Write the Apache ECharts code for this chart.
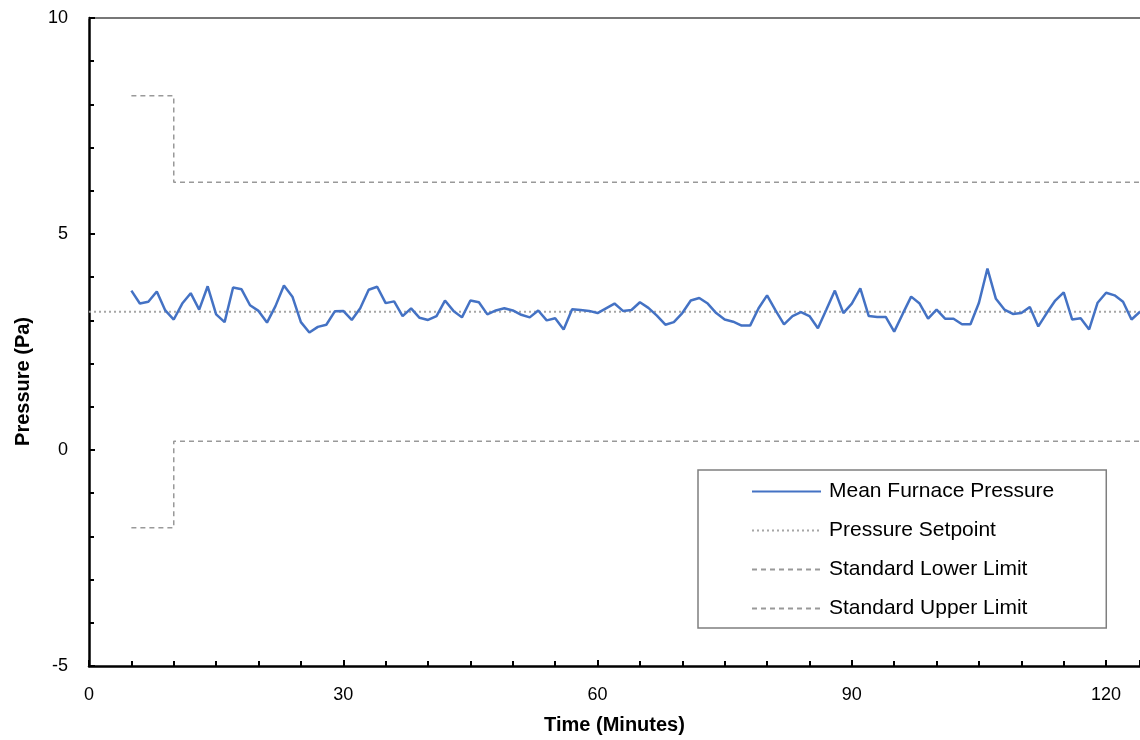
<!DOCTYPE html>
<html>
<head>
<meta charset="utf-8">
<title>Mean Furnace Pressure</title>
<script src="https://cdn.jsdelivr.net/npm/echarts@6/dist/echarts.min.js"></script>
<style>
  html, body { margin: 0; padding: 0; background: #fff; }
  #main { width: 1140px; height: 740px; }
</style>
</head>
<body>
<div id="main"></div>
<script>
// readings start at minute 5, one per minute
var startMinute = 5;
var pressure = [
  3.69, 3.39, 3.43, 3.67, 3.23, 3.02, 3.39, 3.63, 3.25, 3.79,
  3.14, 2.96, 3.76, 3.72, 3.35, 3.22, 2.95, 3.33, 3.81, 3.55,
  2.96, 2.72, 2.85, 2.90, 3.21, 3.22, 3.01, 3.28, 3.71, 3.78,
  3.40, 3.44, 3.10, 3.28, 3.06, 3.01, 3.10, 3.46, 3.22, 3.07,
  3.46, 3.42, 3.14, 3.23, 3.28, 3.23, 3.13, 3.07, 3.23, 3.00,
  3.05, 2.79, 3.26, 3.24, 3.22, 3.17, 3.28, 3.39, 3.22, 3.24,
  3.42, 3.29, 3.11, 2.90, 2.96, 3.17, 3.46, 3.52, 3.39, 3.17,
  3.02, 2.97, 2.88, 2.88, 3.28, 3.58, 3.23, 2.91, 3.10, 3.19,
  3.10, 2.82, 3.25, 3.69, 3.17, 3.39, 3.74, 3.10, 3.08, 3.08,
  2.74, 3.15, 3.55, 3.39, 3.04, 3.25, 3.04, 3.04, 2.91, 2.91,
  3.41, 4.20, 3.50, 3.25, 3.15, 3.17, 3.31, 2.86, 3.17, 3.46,
  3.65, 3.02, 3.05, 2.79, 3.41, 3.64, 3.58, 3.43, 3.02, 3.20
];
var setpoint = [[0, 3.2], [124, 3.2]];
var lowerLimit = [[5, -1.8], [10, -1.8], [10, 0.2], [124, 0.2]];
var upperLimit = [[5, 8.2], [10, 8.2], [10, 6.2], [124, 6.2]];

var seriesNames = ['Mean Furnace Pressure', 'Pressure Setpoint', 'Standard Lower Limit', 'Standard Upper Limit'];

var meanData = pressure.map(function (v, i) { return [startMinute + i, v]; });

var font = 'Liberation Sans, Arial, sans-serif';
var myChart = echarts.init(document.getElementById('main'));

myChart.setOption({
  animation: false,
  backgroundColor: '#fff',
  grid: { left: 89, top: 18, right: 0, bottom: 72, containLabel: false },
  legend: {
    data: seriesNames,
    orient: 'vertical',
    left: 698,
    top: 470,
    padding: [11, 52, 9, 53],
    itemWidth: 69,
    itemHeight: 18,
    itemGap: 18,
    borderColor: '#7f7f7f',
    borderWidth: 1.5,
    backgroundColor: '#fff',
    itemStyle: { opacity: 0 },
    textStyle: { fontFamily: font, fontSize: 21, color: '#000', padding: [0, 0, 0, 3] }
  },
  xAxis: [{
    type: 'value',
    min: 0,
    max: 124,
    interval: 30,
    name: 'Time (Minutes)',
    nameLocation: 'middle',
    nameGap: 49,
    nameTextStyle: { fontFamily: font, fontSize: 20, fontWeight: 'bold', color: '#000' },
    axisLine: { onZero: false, lineStyle: { color: '#000', width: 2.5 } },
    axisTick: { inside: true, length: 6, lineStyle: { color: '#000', width: 2 } },
    minorTick: { show: true, splitNumber: 6, length: 5, lineStyle: { color: '#000', width: 2 } },
    axisLabel: { fontFamily: font, fontSize: 18, color: '#000', margin: 20, showMaxLabel: false },
    splitLine: { show: false }
  }, {
    type: 'value',
    position: 'top',
    min: 0,
    max: 124,
    axisLine: { show: true, onZero: false, lineStyle: { color: '#777', width: 2 } },
    axisTick: { show: false },
    axisLabel: { show: false },
    splitLine: { show: false }
  }],
  yAxis: {
    type: 'value',
    min: -5,
    max: 10,
    interval: 5,
    axisLine: { show: true, onZero: false, lineStyle: { color: '#000', width: 2.5 } },
    axisTick: { inside: true, length: 6, lineStyle: { color: '#000', width: 2 } },
    minorTick: { show: true, splitNumber: 5, length: 5, lineStyle: { color: '#000', width: 2 } },
    axisLabel: { fontFamily: font, fontSize: 18, color: '#000', margin: 21 },
    splitLine: { show: false }
  },
  graphic: [{
    type: 'text',
    left: 13,
    top: 317,
    rotation: Math.PI / 2,
    style: {
      text: 'Pressure (Pa)',
      font: 'bold 20px Liberation Sans, Arial, sans-serif',
      fill: '#000'
    }
  }],
  series: [{
    name: seriesNames[0],
    type: 'line',
    data: meanData,
    symbol: 'none',
    z: 5,
    lineStyle: { color: '#4472C4', width: 2.5 },
    itemStyle: { color: '#4472C4' }
  }, {
    name: seriesNames[1],
    type: 'line',
    data: setpoint,
    symbol: 'none',
    lineStyle: { color: '#a6a6a6', width: 2, type: [2, 3] },
    itemStyle: { color: '#a6a6a6' }
  }, {
    name: seriesNames[2],
    type: 'line',
    data: lowerLimit,
    symbol: 'none',
    lineStyle: { color: '#999', width: 1.5, type: [5, 4] },
    itemStyle: { color: '#999' }
  }, {
    name: seriesNames[3],
    type: 'line',
    data: upperLimit,
    symbol: 'none',
    lineStyle: { color: '#999', width: 1.5, type: [5, 4] },
    itemStyle: { color: '#999' }
  }]
});
</script>
</body>
</html>
